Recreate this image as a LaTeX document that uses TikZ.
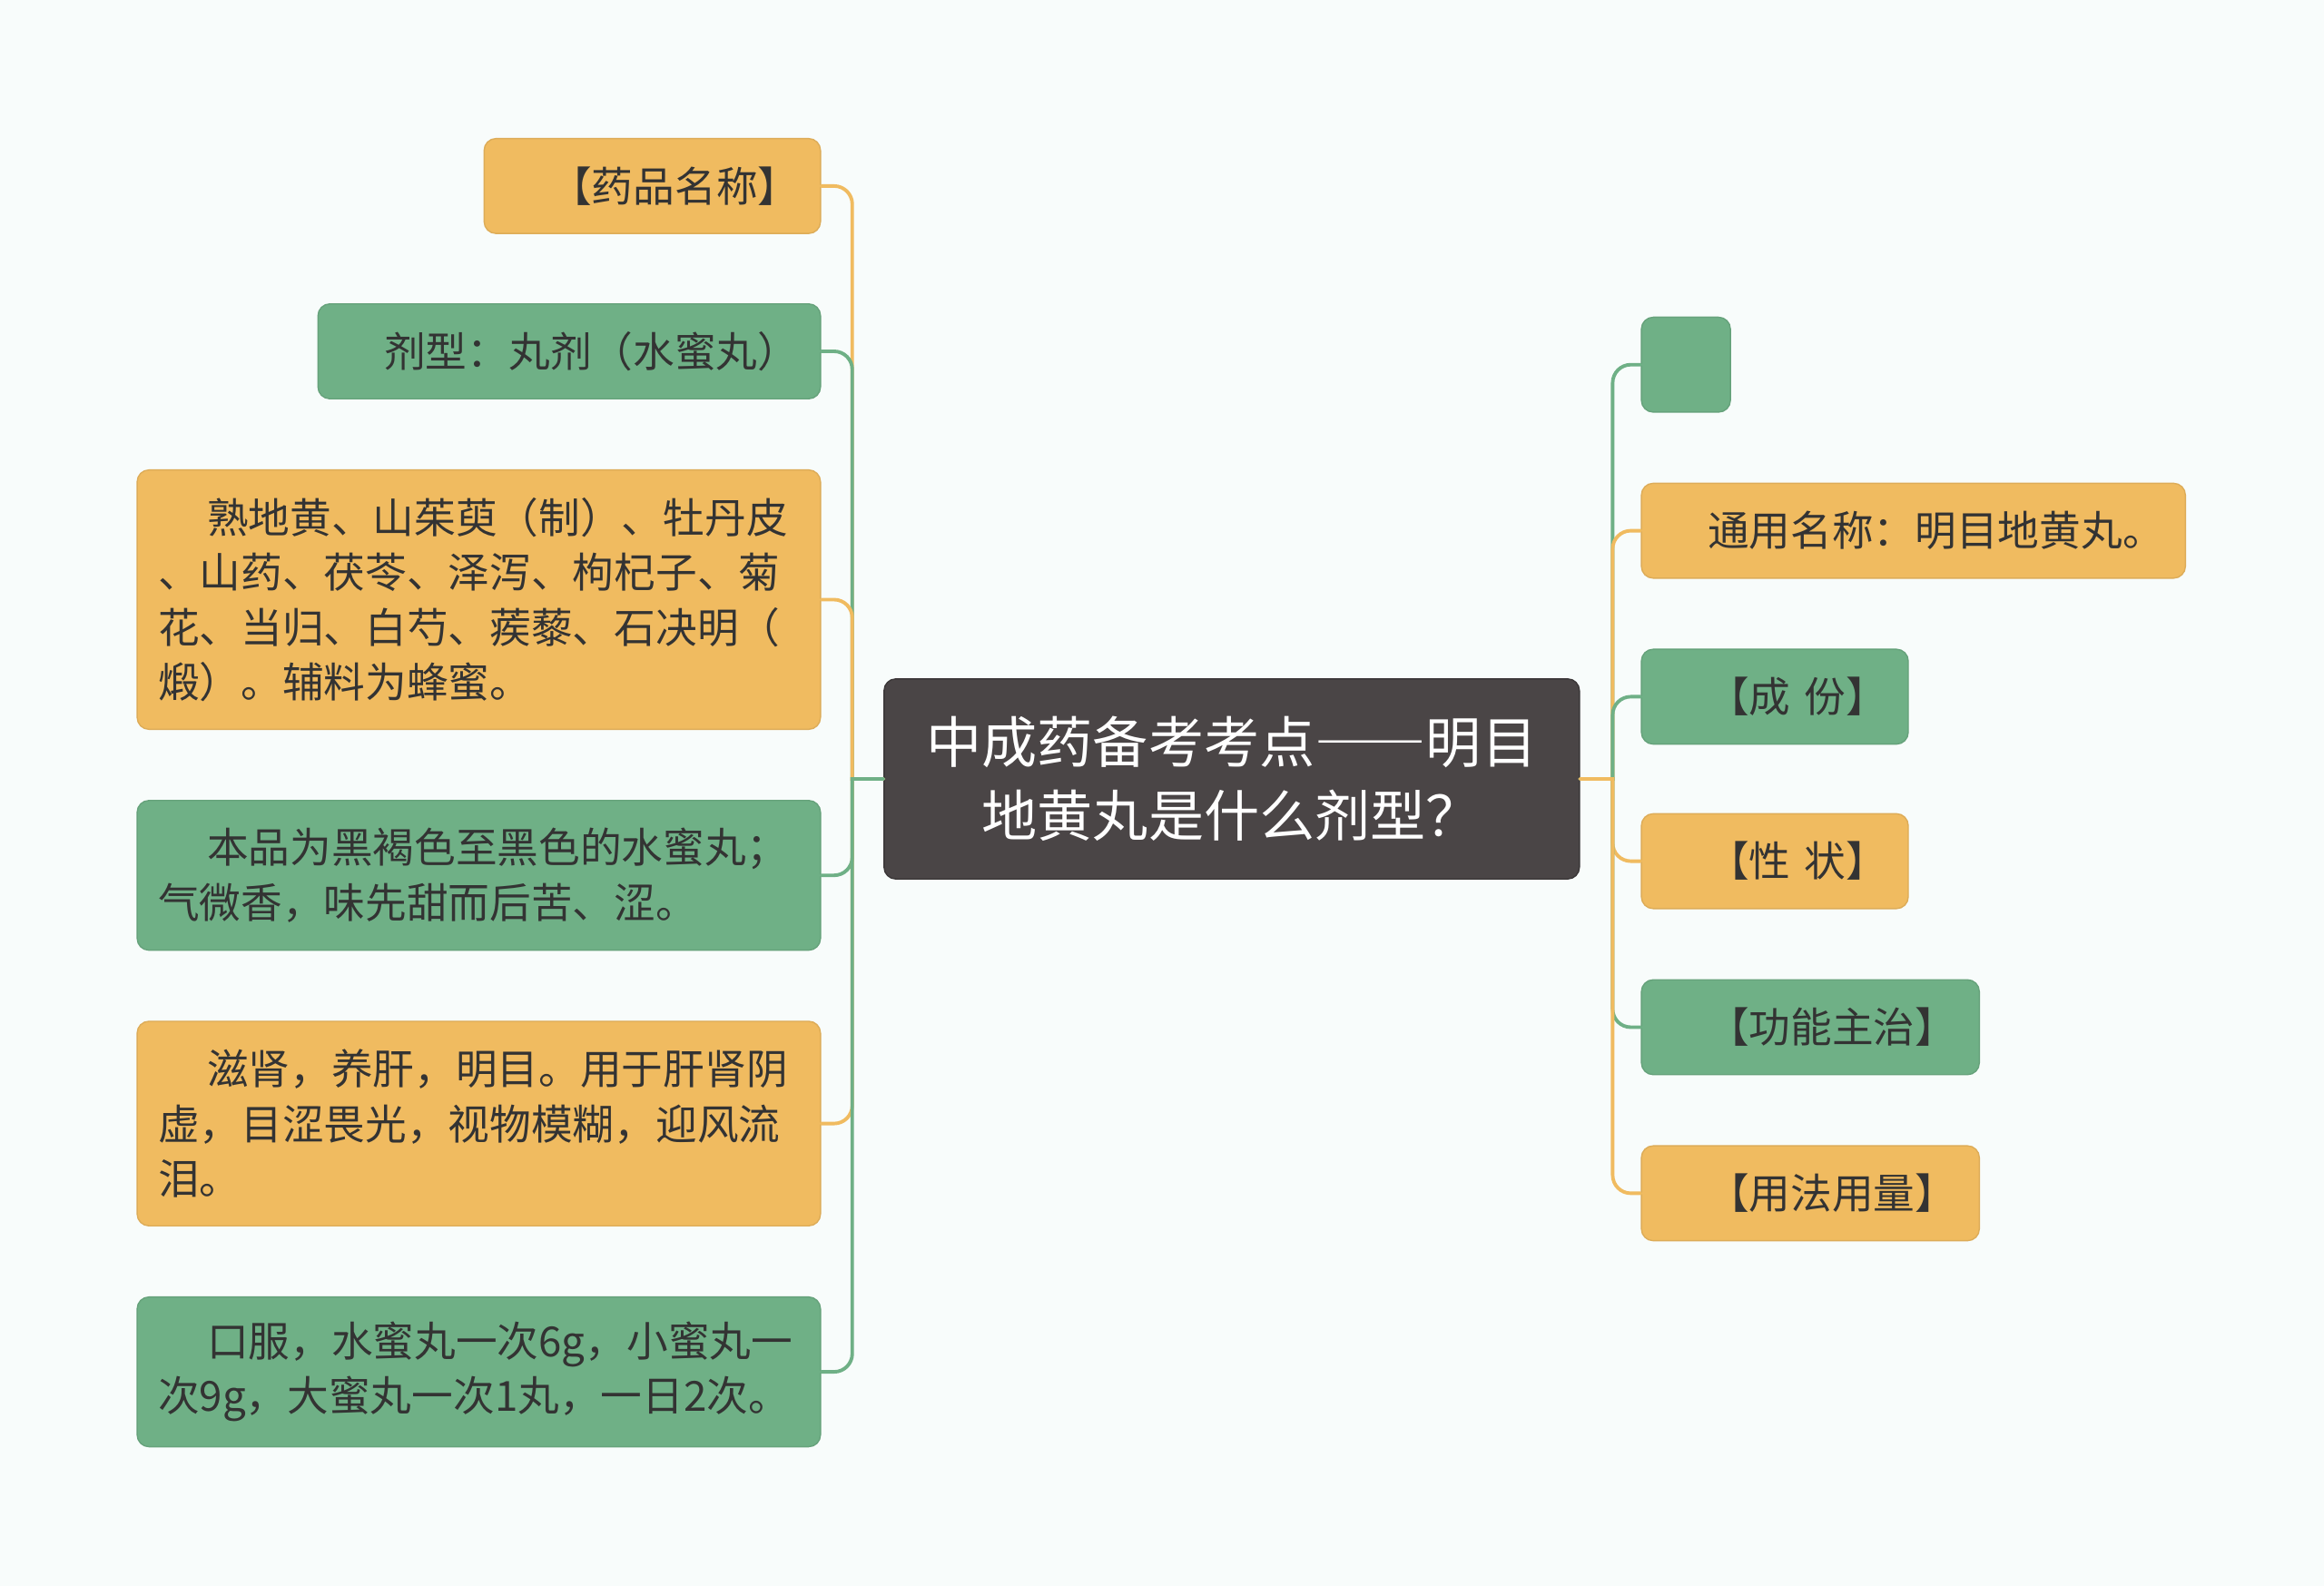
\documentclass[tikz,border=0pt]{standalone}
\usepackage{fontspec}
\setmainfont{Noto Sans CJK SC}
\usepackage{tikz}
\usetikzlibrary{positioning, calc}
\definecolor{LeafOrange}{HTML}{F0BB60}
\definecolor{LeafGreen}{HTML}{6FB086}
\definecolor{RootGrey}{HTML}{4A4546}
\definecolor{InkDark}{HTML}{333333}
\definecolor{PaperBg}{HTML}{F8FCFB}

\begin{document}
\begin{tikzpicture}[
    leaf/.style={rounded corners=0.13cm, inner xsep=0.23cm, inner ysep=0pt, align=left, text=InkDark,
      font=\fontsize{13pt}{17.2pt}\selectfont, minimum height=1.045cm, line width=0.4pt},
    orleaf/.style={leaf, fill=LeafOrange, draw=LeafOrange!92!black},
    grleaf/.style={leaf, fill=LeafGreen, draw=LeafGreen!92!black},
    link/.style={line width=1.1pt, line cap=round}
  ]
  \fill[PaperBg] (0,0) rectangle (25.6,-17.47);
  \useasboundingbox (0,0) rectangle (25.6,-17.47);

  % Root
  \node[fill=RootGrey, draw=RootGrey!80!black, rounded corners=0.13cm, text=white, align=center,
    font=\fontsize{17.4pt}{23pt}\selectfont, text width=7.6cm, inner xsep=0.03cm,
    minimum height=2.204cm] (root) at (13.568,-8.58)
    {中成药备考考点{\addfontfeature{CharacterWidth=Full}——}明目\\地黄丸是什么剂型？};
  \coordinate (lt) at (9.388,-8.58);
  \coordinate (rt) at (17.764,-8.58);

  % Left branch
  \node[orleaf, anchor=east, text width=3.245cm] (yp) at (9.045,-2.049) {\hspace*{0.5cm}【药品名称】};
  \node[grleaf, anchor=east, text width=5.075cm] (jx) at (9.045,-3.870) {\hspace*{0.5cm}剂型：丸剂（水蜜丸）};
  \node[orleaf, anchor=east, text width=7.067cm, minimum height=2.857cm] (cf) at (9.045,-6.605)
    {\hspace*{0.54cm}熟地黄、山茱萸（制）、牡丹皮\\、山药、茯苓、泽泻、枸杞子、菊\\花、当归、白芍、蒺藜、石决明（\\煅）。辅料为蜂蜜。};
  \node[grleaf, anchor=east, text width=7.067cm, minimum height=1.649cm] (xz) at (9.045,-9.642)
    {\hspace*{0.54cm}本品为黑褐色至黑色的水蜜丸；\\气微香，味先甜而后苦、涩。};
  \node[orleaf, anchor=east, text width=7.067cm, minimum height=2.253cm] (gn) at (9.045,-12.376)
    {\hspace*{0.54cm}滋肾，养肝，明目。用于肝肾阴\\虚，目涩畏光，视物模糊，迎风流\\泪。};
  \node[grleaf, anchor=east, text width=7.067cm, minimum height=1.649cm] (yf) at (9.045,-15.111)
    {\hspace*{0.54cm}口服，水蜜丸一次6g，小蜜丸一\\次9g，大蜜丸一次1丸，一日2次。};

  % Right branch
  \node[grleaf, anchor=west, minimum width=0.98cm] (e0) at (18.074,-4.017) {};
  \node[orleaf, anchor=west, text width=5.532cm] (r1) at (18.074,-5.846) {\hspace*{0.5cm}通用名称：明目地黄丸。};
  \node[grleaf, anchor=west, text width=2.479cm] (r2) at (18.074,-7.674) {\hspace*{0.5cm}【成~份】};
  \node[orleaf, anchor=west, text width=2.479cm] (r3) at (18.074,-9.486) {\hspace*{0.5cm}【性~状】};
  \node[grleaf, anchor=west, text width=3.262cm] (r4) at (18.074,-11.315) {\hspace*{0.5cm}【功能主治】};
  \node[orleaf, anchor=west, text width=3.262cm] (r5) at (18.074,-13.144) {\hspace*{0.5cm}【用法用量】};

  % Connectors, last drawn sits on top of the trunk
  \foreach \kid/\col in {yp/LeafOrange, jx/LeafGreen, cf/LeafOrange, xz/LeafGreen, gn/LeafOrange, yf/LeafGreen}
    \draw[link, \col] (root.west) -- (lt) [rounded corners=0.2cm] -- (lt |- \kid.east) -- (\kid.east);
  \foreach \kid/\col in {e0/LeafGreen, r1/LeafOrange, r2/LeafGreen, r3/LeafOrange, r4/LeafGreen, r5/LeafOrange}
    \draw[link, \col] (root.east) -- (rt) [rounded corners=0.2cm] -- (rt |- \kid.west) -- (\kid.west);
\end{tikzpicture}
\end{document}
